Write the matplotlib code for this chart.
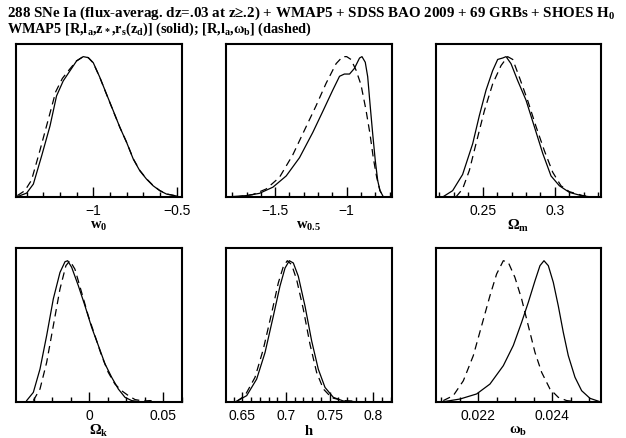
"""
Marginalised 1D likelihoods for w0, w0.5, Omega_m, Omega_k, h, omega_b.
Solid: WMAP5 [R, l_a, z_*, r_s(z_d)]; dashed: WMAP5 [R, l_a, omega_b].
"""

import matplotlib.pyplot as plt
from matplotlib.ticker import MultipleLocator

plt.rcParams["mathtext.fontset"] = "custom"
plt.rcParams["mathtext.rm"] = "Liberation Serif:bold"
plt.rcParams["mathtext.it"] = "Liberation Serif:bold"
plt.rcParams["mathtext.bf"] = "Liberation Serif:bold"

# w0
w0_solid_x = [-1.449, -1.399, -1.359, -1.309, -1.259, -1.220, -1.180, -1.140, -1.100, -1.060,
              -1.030, -1.000, -0.960, -0.920, -0.880, -0.840, -0.800, -0.760, -0.721, -0.681,
              -0.641, -0.601, -0.561, -0.501]
w0_solid_y = [0.005, 0.028, 0.092, 0.294, 0.507, 0.720, 0.827, 0.898, 0.969, 1.000,
              0.993, 0.957, 0.851, 0.732, 0.614, 0.495, 0.389, 0.270, 0.187, 0.128,
              0.080, 0.045, 0.021, 0.007]
w0_dash_x = [-1.455, -1.410, -1.370, -1.320, -1.270, -1.225, -1.185, -1.145, -1.100, -1.060,
             -1.030, -1.000, -0.960, -0.920, -0.880, -0.840, -0.800, -0.760, -0.721, -0.681,
             -0.641, -0.601, -0.561, -0.501]
w0_dash_y = [0.010, 0.045, 0.120, 0.330, 0.550, 0.750, 0.845, 0.905, 0.970, 1.000,
             0.993, 0.955, 0.850, 0.730, 0.612, 0.495, 0.390, 0.272, 0.190, 0.130,
             0.082, 0.046, 0.022, 0.007]

# w0.5
w05_solid_x = [-1.844, -1.700, -1.610, -1.516, -1.423, -1.330, -1.237, -1.167, -1.098, -1.050,
               -1.016, -0.980, -0.946, -0.910, -0.893, -0.870, -0.853, -0.837, -0.818, -0.800,
               -0.783, -0.767, -0.748]
w05_solid_y = [0.0, 0.010, 0.026, 0.070, 0.150, 0.280, 0.460, 0.610, 0.760, 0.860,
               0.876, 0.876, 0.916, 0.990, 1.000, 0.960, 0.857, 0.666, 0.450, 0.260,
               0.117, 0.045, 0.010]
w05_dash_x = [-1.774, -1.657, -1.563, -1.470, -1.377, -1.284, -1.214, -1.144, -1.074, -1.028,
              -1.000, -0.970, -0.935, -0.900, -0.865, -0.837, -0.814, -0.790, -0.767, -0.744]
w05_dash_y = [0.0, 0.017, 0.057, 0.140, 0.300, 0.500, 0.650, 0.810, 0.950, 1.000,
              1.000, 0.980, 0.905, 0.800, 0.620, 0.450, 0.280, 0.140, 0.045, 0.005]

# Omega_m
om_solid_x = [0.2223, 0.2292, 0.2361, 0.2431, 0.2477, 0.2523, 0.2569, 0.2604, 0.2638, 0.2662,
              0.2696, 0.2742, 0.2800, 0.2858, 0.2916, 0.2973, 0.3031, 0.3100, 0.3193, 0.3260]
om_solid_y = [0.0, 0.045, 0.160, 0.380, 0.580, 0.760, 0.900, 0.980, 0.990, 1.000,
              0.950, 0.830, 0.690, 0.500, 0.310, 0.150, 0.080, 0.033, 0.007, 0.0]
om_dash_x = [0.2315, 0.2361, 0.2408, 0.2454, 0.2512, 0.2569, 0.2627, 0.2673, 0.2708, 0.2754,
             0.2812, 0.2870, 0.2927, 0.2985, 0.3042, 0.3100, 0.3193, 0.3260]
om_dash_y = [0.0, 0.057, 0.190, 0.380, 0.615, 0.805, 0.936, 1.000, 0.980, 0.853,
             0.686, 0.500, 0.330, 0.176, 0.080, 0.038, 0.010, 0.0]

# Omega_k
ok_solid_x = [-0.0423, -0.0378, -0.0333, -0.0288, -0.0243, -0.0198, -0.0164, -0.0146, -0.0119, -0.0074,
              -0.0029, 0.0016, 0.0061, 0.0106, 0.0151, 0.0196, 0.0241, 0.0286, 0.0340]
ok_solid_y = [0.010, 0.068, 0.233, 0.470, 0.730, 0.917, 0.993, 1.000, 0.953, 0.823,
              0.680, 0.528, 0.400, 0.270, 0.175, 0.092, 0.033, 0.010, 0.002]
ok_dash_x = [-0.0378, -0.0333, -0.0288, -0.0243, -0.0198, -0.0158, -0.0131, -0.0097, -0.0052, -0.0007,
             0.0038, 0.0083, 0.0128, 0.0173, 0.0218, 0.0264, 0.0309, 0.0365, 0.0410, 0.0455]
ok_dash_y = [0.010, 0.092, 0.280, 0.540, 0.800, 0.965, 1.000, 0.940, 0.776, 0.610,
             0.470, 0.328, 0.210, 0.127, 0.080, 0.045, 0.017, 0.007, 0.010, 0.002]

# h
h_solid_x = [0.6435, 0.6550, 0.6664, 0.6760, 0.6855, 0.6931, 0.6989, 0.7038, 0.7084, 0.7141,
             0.7218, 0.7294, 0.7370, 0.7447, 0.7542, 0.7657, 0.7810]
h_solid_y = [0.005, 0.045, 0.162, 0.350, 0.608, 0.820, 0.948, 1.000, 0.984, 0.890,
             0.678, 0.432, 0.232, 0.103, 0.033, 0.007, 0.002]
h_dash_x = [0.6435, 0.6530, 0.6645, 0.6740, 0.6836, 0.6912, 0.6970, 0.7015, 0.7065, 0.7122,
            0.7199, 0.7275, 0.7351, 0.7428, 0.7523, 0.7657, 0.7810]
h_dash_y = [0.005, 0.045, 0.174, 0.373, 0.630, 0.843, 0.960, 1.000, 0.972, 0.866,
            0.655, 0.408, 0.209, 0.092, 0.030, 0.010, 0.005]

# omega_b
ob_solid_x = [0.021054, 0.021505, 0.021955, 0.022315, 0.022676, 0.022946, 0.023171, 0.023351, 0.023532, 0.023667,
              0.023775, 0.023892, 0.024027, 0.024162, 0.024297, 0.024432, 0.024613, 0.024793, 0.025018, 0.025288]
ob_solid_y = [0.002, 0.021, 0.057, 0.127, 0.257, 0.400, 0.564, 0.705, 0.858, 0.965,
              1.000, 0.965, 0.847, 0.680, 0.493, 0.328, 0.175, 0.080, 0.026, 0.002]
ob_dash_x = [0.021054, 0.021324, 0.021595, 0.021865, 0.022090, 0.022315, 0.022495, 0.022676, 0.022811, 0.022990,
             0.023171, 0.023351, 0.023532, 0.023712, 0.023937, 0.024162, 0.024387, 0.024658]
ob_dash_y = [0.010, 0.045, 0.150, 0.328, 0.540, 0.752, 0.906, 1.000, 0.988, 0.882,
             0.729, 0.540, 0.351, 0.210, 0.092, 0.033, 0.010, 0.002]

panels = [
    (w0_solid_x, w0_solid_y, w0_dash_x, w0_dash_y, (-1.463, -0.468), 0.1,
     [-1.0, -0.5], ["\u22121", "\u22120.5"], r"$\mathrm{w_0}$"),
    (w05_solid_x, w05_solid_y, w05_dash_x, w05_dash_y, (-1.844, -0.683), 0.1,
     [-1.5, -1.0], ["\u22121.5", "\u22121"], r"$\mathrm{w_{0.5}}$"),
    (om_solid_x, om_solid_y, om_dash_x, om_dash_y, (0.2177, 0.3319), 0.01,
     [0.25, 0.3], ["0.25", "0.3"], r"$\Omega_\mathrm{m}$"),
    (ok_solid_x, ok_solid_y, ok_dash_x, ok_dash_y, (-0.0495, 0.0626), 0.0125,
     [0.0, 0.05], ["0", "0.05"], r"$\Omega_\mathrm{k}$"),
    (h_solid_x, h_solid_y, h_dash_x, h_dash_y, (0.6313, 0.8214), 0.01,
     [0.65, 0.7, 0.75, 0.8], ["0.65", "0.7", "0.75", "0.8"], r"$\mathrm{h}$"),
    (ob_solid_x, ob_solid_y, ob_dash_x, ob_dash_y, (0.020857, 0.025316), 0.0005,
     [0.022, 0.024], ["0.022", "0.024"], r"$\omega_\mathrm{b}$"),
]

W, H = 626, 439
fig = plt.figure(figsize=(W / 100, H / 100), dpi=100)

# axes boxes in pixels: (left, right) and (top, bottom)
cols = [(16, 182), (226, 392), (436, 601)]
rows = [(45, 198), (249, 403)]

for i, (sx, sy, dx, dy, xlim, minor, ticks, labels, xlabel) in enumerate(panels):
    l, r = cols[i % 3]
    t, b = rows[i // 3]
    ax = fig.add_axes([l / W, 1 - b / H, (r - l) / W, (b - t) / H])
    ax.plot(sx, sy, color="black", linewidth=0.9)
    ax.plot(dx, dy, color="black", linewidth=0.9, linestyle=(0, (6, 4)))
    ax.set_xlim(*xlim)
    ax.set_ylim(0, 1.09)
    ax.set_yticks([])
    ax.xaxis.set_minor_locator(MultipleLocator(minor))
    ax.set_xticks(ticks)
    ax.set_xticklabels(labels, fontfamily="Liberation Sans", fontsize=10)
    ax.tick_params(axis="x", which="major", direction="in", length=7, width=1, pad=4)
    ax.tick_params(axis="x", which="minor", direction="in", length=3.5, width=1)
    for s in ax.spines.values():
        s.set_linewidth(1.5)
    ax.set_xlabel(xlabel, fontsize=10.5, labelpad=0)

fig.text(7 / W, 1 - 17 / H,
         "288 SNe Ia (flux-averag. dz=.03 at z\u2265.2) + WMAP5 + SDSS BAO 2009 + 69 GRBs + SHOES H$_0$",
         fontfamily="Liberation Serif", fontweight="bold", fontsize=10.8, va="baseline")
fig.text(7 / W, 1 - 33 / H,
         r"WMAP5 [R,l$_a$,z$_*$,r$_s$(z$_d$)] (solid); [R,l$_a$,$\omega_b$] (dashed)",
         fontfamily="Liberation Serif", fontweight="bold", fontsize=10.3, va="baseline")

fig.savefig("out.png", dpi=100)
